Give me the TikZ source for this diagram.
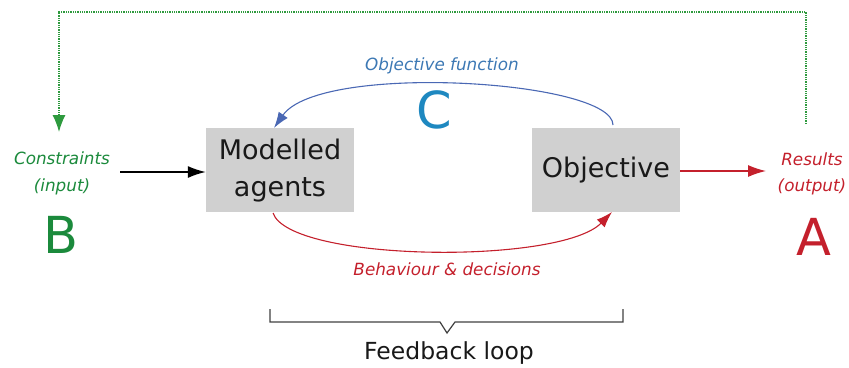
\documentclass[tikz,border=0pt]{standalone}
\usepackage{fontspec}
\setmainfont{DejaVu Sans}
\usetikzlibrary{arrows.meta}
\definecolor{boxgray}{HTML}{D0D0D0}
\definecolor{cgreen}{HTML}{1B8A3C}
\definecolor{cdots}{HTML}{2E9A3E}
\definecolor{cred}{HTML}{C4202C}
\definecolor{cblue}{HTML}{1E88C0}
\definecolor{cbluetext}{HTML}{3C78B4}
\definecolor{cblueline}{HTML}{4A68B4}
\tikzset{
  block/.style={fill=boxgray, minimum width=148pt, minimum height=84pt, inner sep=0pt},
  blocktext/.style={font=\fontsize{27}{37}\selectfont, align=center, text=black!90},
  label/.style={font=\fontsize{16.8}{20}\selectfont\itshape, inner sep=0pt},
  letter/.style={font=\fontsize{51}{56}\selectfont, inner sep=0pt},
  tip/.style={-{Latex[length=18pt,width=12pt]}},
}
\begin{document}
\begin{tikzpicture}[x=1pt,y=-1pt]
\useasboundingbox (0,0) rectangle (849,367);

% the two process blocks
\node[block] (ma) at (280,169.5) {};
\node[blocktext] at ([yshift=-1pt]ma.center) {Modelled\\agents};
\node[block] (ob) at (606,169.5) {};
\node[blocktext] at ([yshift=-1pt]ob.center) {Objective};

% input side
\node[label, text=cgreen] (cons) at (62,158) {Constraints};
\node[label, text=cgreen] (inp) at (62,187) {(input)};
\node[letter, text=cgreen] (B) at (61,235) {B};

% output side
\node[label, text=cred] (res) at (812,159) {Results};
\node[label, text=cred] (out) at (812,187) {(output)};
\node[letter, text=cred] (A) at (814,237) {A};

% straight arrows
\coordinate (inS) at (120,172);
\draw[tip, black, line width=1.5pt] (inS) -- (ma.west |- inS);
\coordinate (outE) at (766,171);
\draw[tip, cred, line width=1.3pt] (ob.east |- outE) -- (outE);

% dotted feedback from results back to constraints
\coordinate (g1) at (806,124);
\coordinate (g2) at (806,12);
\coordinate (g3) at (59,12);
\coordinate (g4) at (59,132);
\draw[cdots, densely dotted, line width=1.3pt, -{Latex[length=17pt,width=13pt]}]
  (g1) -- (g2) -- (g3) -- (g4);

% objective function arc (C)
\coordinate (bS) at (613,125);
\coordinate (bE) at (274,128);
\draw[cblueline, line width=1.1pt, -{Latex[length=16pt,width=11pt]}] (bS) .. controls (613,80) and (320,62) .. (bE);
\node[label, text=cbluetext] (of) at (442,66) {Objective function};
\node[letter, text=cblue] (C) at (434,110) {C};

% behaviour arc
\coordinate (rS) at (273,213);
\coordinate (rE) at (612,212);
\draw[cred, line width=1.1pt, -{Latex[length=16pt,width=11pt]}] (rS) .. controls (290,262) and (560,265) .. (rE);
\node[label, text=cred] (bd) at (447,269) {Behaviour \& decisions};

% brace under the loop
\coordinate (k1) at (270,309);
\coordinate (k2) at (270,322);
\coordinate (k3) at (440,322);
\coordinate (k4) at (447,333);
\coordinate (k5) at (455,322);
\coordinate (k6) at (623,322);
\coordinate (k7) at (623,309);
\draw[black!75, line width=1.2pt] (k1) -- (k2) -- (k3) -- (k4) -- (k5) -- (k6) -- (k7);
\node[font=\fontsize{23.5}{27}\selectfont, text=black!90] (fb) at (449,353) {Feedback loop};
\end{tikzpicture}
\end{document}
